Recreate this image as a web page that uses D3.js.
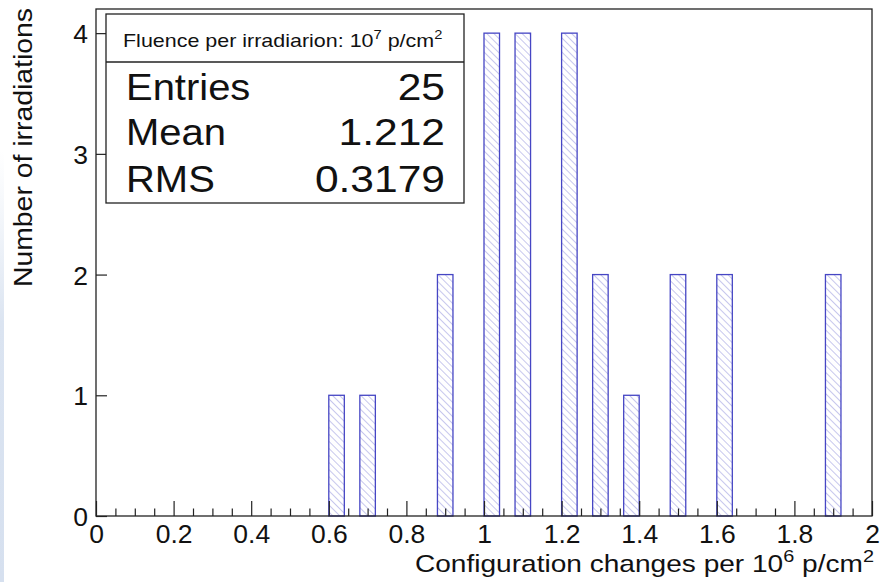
<!DOCTYPE html>
<html>
<head>
<meta charset="utf-8">
<script src="https://cdn.jsdelivr.net/npm/d3@7"></script>
<style>
  html, body { margin: 0; padding: 0; background: #ffffff; }
  svg { display: block; font-family: "Liberation Sans", Arial, Helvetica, sans-serif; }
</style>
</head>
<body>
<svg id="chart" width="880" height="582"></svg>
<script>
// ---- data ----
const binLow = [0.60, 0.68, 0.88, 1.00, 1.08, 1.20, 1.28, 1.36, 1.48, 1.60, 1.88];
const counts = [1, 1, 2, 4, 4, 4, 2, 1, 2, 2, 2];
const binWidth = 0.04;
const xTickValues = [0, 0.2, 0.4, 0.6, 0.8, 1, 1.2, 1.4, 1.6, 1.8, 2];
const xTickLabels = ["0", "0.2", "0.4", "0.6", "0.8", "1", "1.2", "1.4", "1.6", "1.8", "2"];
const yTickValues = [0, 1, 2, 3, 4];
const yTickLabels = ["0", "1", "2", "3", "4"];
const statNames = ["Entries", "Mean", "RMS"];
const statValues = ["25", "1.212", "0.3179"];

// ---- layout ----
const svg = d3.select("#chart");
const L = 96, R = 872, T = 9, B = 516;
const x = d3.scaleLinear().domain([0, 2]).range([L, R]);
const y = d3.scaleLinear().domain([0, 4.2]).range([B, T]);

// faint left strip (background artifact)
const defs = svg.append("defs");
const grad = defs.append("linearGradient").attr("id", "strip").attr("x1", 0).attr("x2", 0).attr("y1", 0).attr("y2", 1);
grad.append("stop").attr("offset", "0").attr("stop-color", "#e3eaf4").attr("stop-opacity", 0);
grad.append("stop").attr("offset", "0.4").attr("stop-color", "#dbe4f1").attr("stop-opacity", 1);
grad.append("stop").attr("offset", "1").attr("stop-color", "#d6e0ef").attr("stop-opacity", 1);
svg.append("rect").attr("x", 0).attr("y", 150).attr("width", 4).attr("height", 432).attr("fill", "url(#strip)");

// hatch pattern (lines from upper-left to lower-right)
const pat = defs.append("pattern").attr("id", "hatch").attr("patternUnits", "userSpaceOnUse")
  .attr("width", 5).attr("height", 5).attr("patternTransform", "rotate(-45)");
pat.append("line").attr("x1", 0).attr("y1", 0).attr("x2", 0).attr("y2", 5)
  .attr("stroke", "#8f8fdc").attr("stroke-width", 1);

// bars
svg.append("g").selectAll("rect").data(binLow).join("rect")
  .attr("x", (d) => x(d))
  .attr("y", (d, i) => y(counts[i]))
  .attr("width", (d) => x(d + binWidth) - x(d))
  .attr("height", (d, i) => y(0) - y(counts[i]))
  .attr("fill", "url(#hatch)")
  .attr("stroke", "#4646c4").attr("stroke-width", 1.3);

// x axis: major + minor ticks pointing up
const minorVals = d3.range(0, 41).map(i => i * 0.05).filter(v => Math.round(v * 100) % 20 !== 0);
const xMinor = d3.axisBottom(x).tickValues(minorVals).tickSizeInner(-7.5).tickSizeOuter(0).tickFormat("");
const gxm = svg.append("g").attr("transform", `translate(0,${B})`).call(xMinor);
gxm.select(".domain").remove();
const xMajor = d3.axisBottom(x).tickValues(xTickValues).tickSizeInner(-15).tickSizeOuter(0)
  .tickFormat((d, i) => xTickLabels[i]).tickPadding(0);
const gx = svg.append("g").attr("transform", `translate(0,${B})`).call(xMajor);
gx.select(".domain").remove();
gx.selectAll("text").attr("y", 0).attr("dy", 0)
  .attr("transform", "translate(0,27) scale(1.06,1)")
  .attr("font-size", 25).attr("fill", "#111")
  .attr("font-family", "Liberation Sans, Arial, sans-serif");

// y axis: ticks pointing right
const yAxis = d3.axisLeft(y).tickValues(yTickValues).tickSizeInner(-11).tickSizeOuter(0)
  .tickFormat((d, i) => yTickLabels[i]).tickPadding(0);
const gy = svg.append("g").attr("transform", `translate(${L},0)`).call(yAxis);
gy.select(".domain").remove();
gy.selectAll("text").attr("x", 0).attr("dy", 0).attr("y", 0)
  .attr("transform", "translate(-8,9.5) scale(1.06,1)")
  .attr("font-size", 25).attr("fill", "#111")
  .attr("font-family", "Liberation Sans, Arial, sans-serif");
svg.selectAll(".tick line").attr("stroke", "#222").attr("stroke-width", 1.2);

// frame
svg.append("rect").attr("x", L).attr("y", T).attr("width", R - L).attr("height", B - T)
  .attr("fill", "none").attr("stroke", "#222").attr("stroke-width", 1.3);

// axis titles
const xt = svg.append("text").attr("transform", "translate(874,572) scale(1.17,1)").attr("text-anchor", "end")
  .attr("font-size", 24).attr("fill", "#111");
xt.append("tspan").text("Configuration changes per 10");
xt.append("tspan").attr("dy", -10).attr("font-size", 17).text("6");
xt.append("tspan").attr("dy", 10).text(" p/cm");
xt.append("tspan").attr("dy", -10).attr("font-size", 17).text("2");

svg.append("text").attr("transform", "translate(32,8) rotate(-90) scale(1.135,1)").attr("text-anchor", "end")
  .attr("font-size", 25).attr("fill", "#111").text("Number of irradiations");

// stats box
const bx = 106, by = 14, bw = 358, bh = 189;
svg.append("rect").attr("x", bx).attr("y", by).attr("width", bw).attr("height", bh)
  .attr("fill", "#fff").attr("stroke", "#222").attr("stroke-width", 1.3);
svg.append("line").attr("x1", bx).attr("x2", bx + bw).attr("y1", 62).attr("y2", 62)
  .attr("stroke", "#222").attr("stroke-width", 1.3);
const tt = svg.append("text").attr("transform", "translate(123,47) scale(1.13,1)").attr("font-size", 19).attr("fill", "#111");
tt.append("tspan").text("Fluence per irradiarion: 10");
tt.append("tspan").attr("dy", -8).attr("font-size", 13).text("7");
tt.append("tspan").attr("dy", 8).text(" p/cm");
tt.append("tspan").attr("dy", -8).attr("font-size", 13).text("2");

const statY = [100, 145, 192];
svg.append("g").selectAll("text").data(statNames).join("text")
  .attr("transform", (d, i) => `translate(126,${statY[i]}) scale(1.08,1)`)
  .attr("font-size", 37).attr("fill", "#111").text(d => d);
svg.append("g").selectAll("text").data(statValues).join("text")
  .attr("transform", (d, i) => `translate(445,${statY[i]}) scale(1.15,1)`)
  .attr("text-anchor", "end")
  .attr("font-size", 37).attr("fill", "#111").text(d => d);
</script>
</body>
</html>
